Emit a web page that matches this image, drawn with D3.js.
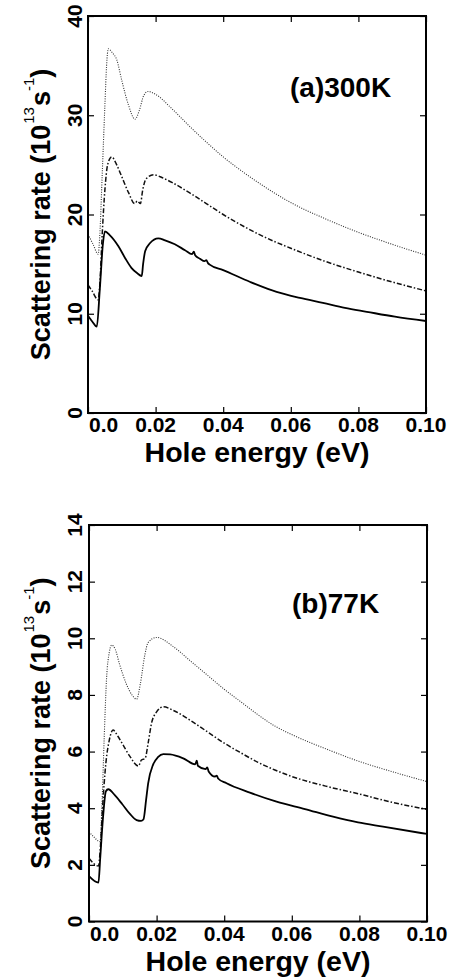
<!DOCTYPE html>
<html><head><meta charset="utf-8">
<script src="https://cdn.jsdelivr.net/npm/d3@7"></script>
<style>body{margin:0;background:#fff} svg{display:block}</style>
</head><body>
<svg id="c" width="456" height="979"></svg>
<script>
// ---------- data ----------
const xTicks = [0, 0.02, 0.04, 0.06, 0.08, 0.10];
const xTickLabels = ["0.0", "0.02", "0.04", "0.06", "0.08", "0.10"];
const yTicksA = [0, 10, 20, 30, 40];
const yTicksB = [0, 2, 4, 6, 8, 10, 12, 14];

// (a) 300K  [energy eV, rate 1e13 s^-1]
const solidA = [[0,9.8],[0.0013,9.2],[0.0026,8.7],[0.0035,12.5],[0.0044,17.0],[0.005,18.3],[0.0065,17.9],[0.009,16.8],[0.011,15.6],[0.0129,14.6],[0.0145,14.1],[0.0159,13.8],[0.0163,15.0],[0.0169,16.3],[0.0183,17.1],[0.0208,17.6],[0.0228,17.4],[0.0257,17.0],[0.0287,16.4],[0.0308,16.0],[0.0313,16.25],[0.0317,15.9],[0.0331,15.55],[0.0345,15.3],[0.0350,15.4],[0.0355,15.1],[0.036,14.95],[0.04,14.4],[0.048,13.2],[0.0558,12.2],[0.0627,11.6],[0.0695,11.1],[0.076,10.6],[0.0825,10.2],[0.0908,9.7],[0.1,9.27]];
const dashA = [[0,12.9],[0.0012,12.3],[0.003,11.4],[0.0035,13.0],[0.0042,18.0],[0.005,22.5],[0.0058,25.0],[0.007,25.8],[0.0085,25.0],[0.010,23.8],[0.012,22.2],[0.0138,21.1],[0.0146,21.35],[0.0155,21.1],[0.0162,22.5],[0.0172,23.6],[0.0195,24.0],[0.022,23.7],[0.025,23.2],[0.03,22.2],[0.035,21.1],[0.04,20.0],[0.045,19.0],[0.05,18.1],[0.055,17.3],[0.06,16.6],[0.07,15.3],[0.08,14.2],[0.09,13.2],[0.1,12.3]];
const dotA = [[0,18.0],[0.0015,17.0],[0.003,16.0],[0.0035,18.0],[0.0042,24.0],[0.005,31.0],[0.0055,35.0],[0.006,36.7],[0.0072,36.3],[0.0085,35.6],[0.010,33.5],[0.012,31.0],[0.0139,29.6],[0.0152,30.5],[0.0165,32.0],[0.0178,32.4],[0.020,32.1],[0.025,30.6],[0.03,28.9],[0.035,27.3],[0.04,25.8],[0.045,24.5],[0.05,23.3],[0.055,22.2],[0.06,21.2],[0.07,19.6],[0.08,18.2],[0.09,17.0],[0.1,15.9]];

// (b) 77K
const solidB = [[0,1.6],[0.0028,1.37],[0.0033,2.2],[0.0041,3.6],[0.005,4.6],[0.0057,4.67],[0.0077,4.45],[0.0098,4.15],[0.0121,3.8],[0.0141,3.58],[0.0154,3.55],[0.0161,3.6],[0.0169,4.3],[0.0175,4.88],[0.019,5.55],[0.0204,5.8],[0.022,5.91],[0.024,5.9],[0.0279,5.76],[0.0314,5.55],[0.0319,5.68],[0.0322,5.5],[0.0345,5.38],[0.0350,5.44],[0.0354,5.3],[0.0373,5.12],[0.0378,5.15],[0.0382,5.05],[0.0407,4.88],[0.0476,4.55],[0.0555,4.23],[0.0639,3.97],[0.0722,3.7],[0.0796,3.5],[0.087,3.35],[0.1,3.09]];
const dashB = [[0,2.23],[0.0028,1.96],[0.0033,2.5],[0.004,4.0],[0.005,5.6],[0.006,6.4],[0.0071,6.76],[0.0085,6.55],[0.010,6.25],[0.012,5.85],[0.0146,5.49],[0.0155,5.7],[0.0166,5.76],[0.0175,6.3],[0.0185,7.0],[0.020,7.4],[0.022,7.58],[0.025,7.45],[0.03,7.1],[0.035,6.7],[0.04,6.3],[0.045,5.95],[0.05,5.62],[0.055,5.35],[0.06,5.12],[0.07,4.78],[0.08,4.5],[0.09,4.2],[0.1,3.96]];
const dotB = [[0,3.17],[0.0013,3.0],[0.0033,2.82],[0.0038,4.0],[0.0045,6.5],[0.0052,8.6],[0.006,9.5],[0.0067,9.76],[0.0078,9.6],[0.009,9.1],[0.011,8.4],[0.0127,8.0],[0.0141,7.85],[0.0152,8.4],[0.0165,9.4],[0.0175,9.85],[0.020,10.03],[0.025,9.7],[0.03,9.2],[0.035,8.7],[0.04,8.2],[0.045,7.75],[0.05,7.3],[0.055,6.9],[0.06,6.6],[0.07,6.1],[0.08,5.65],[0.09,5.28],[0.1,4.94]];

const panelLabels = ["(a)300K", "(b)77K"];
const xTitle = "Hole energy (eV)";

// ---------- drawing ----------
const svg = d3.select("#c");
const FONT = "'Liberation Sans', Arial, Helvetica, sans-serif";

function panel(cfg) {
  const x = d3.scaleLinear().domain([0, 0.1]).range([cfg.left, cfg.right]);
  const y = d3.scaleLinear().domain([0, cfg.ymax]).range([cfg.bottom, cfg.top]);
  const g = svg.append("g");

  const line = d3.line().x(d => x(d[0])).y(d => y(d[1])).curve(d3.curveMonotoneX);

  g.append("path").attr("d", line(cfg.dot)).attr("fill", "none")
    .attr("stroke", "#333").attr("stroke-width", 1.1).attr("stroke-dasharray", "1,1.4");
  g.append("path").attr("d", line(cfg.dash)).attr("fill", "none")
    .attr("stroke", "#111").attr("stroke-width", 1.5).attr("stroke-dasharray", "5,2,1.5,2");
  g.append("path").attr("d", line(cfg.solid)).attr("fill", "none")
    .attr("stroke", "#000").attr("stroke-width", 1.8);

  // axes (ticks inward on all sides)
  const axB = d3.axisBottom(x).tickValues(xTicks).tickSize(-6).tickFormat("");
  const axT = d3.axisTop(x).tickValues(xTicks).tickSize(-6).tickFormat("");
  const axL = d3.axisLeft(y).tickValues(cfg.yTicks).tickSize(-6).tickFormat("");
  const axR = d3.axisRight(y).tickValues(cfg.yTicks).tickSize(-6).tickFormat("");
  [[axB, `translate(0,${cfg.bottom})`], [axT, `translate(0,${cfg.top})`],
   [axL, `translate(${cfg.left},0)`], [axR, `translate(${cfg.right},0)`]].forEach(([ax, tr]) => {
    const a = g.append("g").attr("transform", tr).call(ax);
    a.select(".domain").remove();
    a.selectAll("line").attr("stroke", "#000").attr("stroke-width", 1.2);
  });
  // frame
  g.append("rect").attr("x", cfg.left).attr("y", cfg.top)
    .attr("width", cfg.right - cfg.left).attr("height", cfg.bottom - cfg.top)
    .attr("fill", "none").attr("stroke", "#000").attr("stroke-width", 2);

  // x tick labels
  g.selectAll(".xl").data(xTicks).enter().append("text")
    .attr("x", (d, i) => i === 0 ? x(d) + 1 : x(d))
    .attr("y", cfg.bottom + 19)
    .attr("text-anchor", (d, i) => i === 0 ? "start" : "middle")
    .attr("font-family", FONT).attr("font-weight", "bold").attr("font-size", 21)
    .text((d, i) => xTickLabels[i]);

  // y tick labels (rotated)
  g.selectAll(".yl").data(cfg.yTicks).enter().append("text")
    .attr("transform", d => `translate(82,${y(d)}) rotate(-90)`)
    .attr("text-anchor", "middle")
    .attr("font-family", FONT).attr("font-weight", "bold").attr("font-size", 21)
    .text(d => d);

  // x title
  g.append("text").attr("x", (cfg.left + cfg.right) / 2).attr("y", cfg.bottom + 49)
    .attr("text-anchor", "middle")
    .attr("font-family", FONT).attr("font-weight", "bold").attr("font-size", 28.5)
    .text(xTitle);

  // y title
  const cy = (cfg.top + cfg.bottom) / 2;
  const yt = g.append("text").attr("transform", `translate(50,${cy}) rotate(-90)`)
    .attr("text-anchor", "middle")
    .attr("font-family", FONT).attr("font-weight", "bold").attr("font-size", 27);
  yt.append("tspan").text("Scattering rate (10");
  yt.append("tspan").attr("font-size", 15).attr("font-weight", "normal").attr("dy", -16).attr("dx", 1).text("13");
  yt.append("tspan").attr("dy", 16).attr("dx", 1).text("s");
  yt.append("tspan").attr("font-size", 15).attr("font-weight", "normal").attr("dy", -16).text("-1");
  yt.append("tspan").attr("dy", 16).text(")");

  // panel label
  g.append("text").attr("x", cfg.labelX).attr("y", cfg.labelY)
    .attr("font-family", FONT).attr("font-weight", "bold").attr("font-size", 28)
    .text(cfg.label);
}

panel({left: 88, right: 426, top: 16, bottom: 413, ymax: 40, yTicks: yTicksA,
  solid: solidA, dash: dashA, dot: dotA, label: panelLabels[0], labelX: 290, labelY: 97});
panel({left: 89, right: 427, top: 525, bottom: 921.5, ymax: 14, yTicks: yTicksB,
  solid: solidB, dash: dashB, dot: dotB, label: panelLabels[1], labelX: 292, labelY: 613});
</script>
</body></html>
